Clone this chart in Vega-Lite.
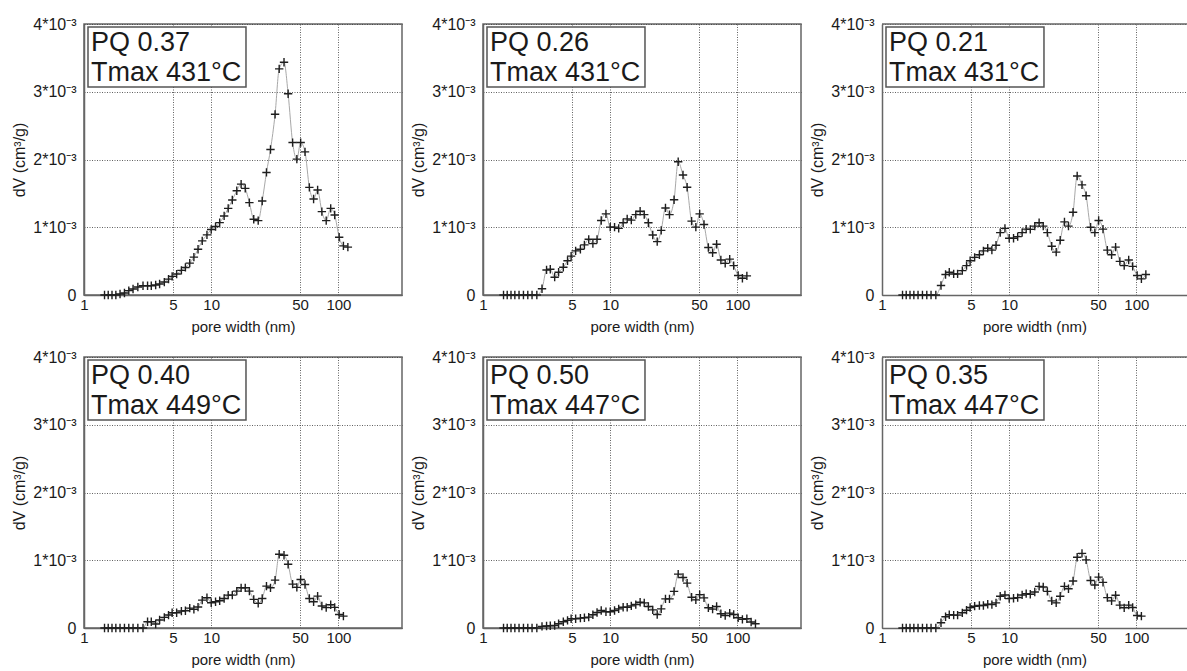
{
  "$schema": "https://vega.github.io/schema/vega-lite/v6.json",
  "background": "white",
  "padding": {"left": 10, "top": 15, "right": 0, "bottom": 0},
  "columns": 3,
  "bounds": "flush",
  "spacing": {"row": 62, "column": 81},
  "config": {
    "font": "Liberation Sans",
    "view": {"stroke": "#666", "strokeWidth": 1.5},
    "axis": {"grid": true, "gridColor": "#3a3a3a", "gridDash": [1, 1.5], "gridWidth": 0.8, "ticks": false, "domain": true, "domainColor": "#666", "domainWidth": 1.5, "labelColor": "#1a1a1a", "titleColor": "#1a1a1a", "titleFontWeight": "normal", "labelFont": "Liberation Sans", "titleFont": "Liberation Sans"},
    "axisX": {"labelFontSize": 15, "titleFontSize": 15, "labelPadding": 2, "titlePadding": 7, "labelFlush": false, "labelOverlap": false},
    "axisY": {"labelFontSize": 16, "titleFontSize": 16, "labelPadding": 8, "titlePadding": 8.5, "minExtent": 48, "maxExtent": 48, "labelOverlap": false},
    "line": {"interpolate": "monotone", "color": "#a8a8a8", "strokeWidth": 1},
    "point": {"shape": "M-1,0H1M0,-1V1", "filled": false, "stroke": "#1e1e1e", "strokeWidth": 1.4, "size": 70, "opacity": 1},
    "rect": {"fill": "white", "stroke": "#555", "strokeWidth": 1.5},
    "text": {"align": "left", "baseline": "alphabetic", "fontSize": 27, "color": "#1a1a1a"},
    "rule": {"color": "#666", "strokeWidth": 1.5}
  },
  "datasets": {
    "p1": [
      {"w":1.45,"dv":0},{"w":1.55,"dv":0},{"w":1.66,"dv":0},{"w":1.78,"dv":0},{"w":1.92,"dv":0.000015},{"w":2.08,"dv":0.00003},{"w":2.25,"dv":0.000064},{"w":2.43,"dv":0.000088},{"w":2.65,"dv":0.000118},{"w":2.91,"dv":0.000137},{"w":3.16,"dv":0.000137},{"w":3.38,"dv":0.000137},{"w":3.66,"dv":0.000147},{"w":3.93,"dv":0.000162},{"w":4.28,"dv":0.000191},{"w":4.62,"dv":0.000235},{"w":4.93,"dv":0.000275},{"w":5.35,"dv":0.000309},{"w":5.83,"dv":0.000363},{"w":6.27,"dv":0.000407},{"w":6.78,"dv":0.000471},{"w":7.31,"dv":0.000559},{"w":7.88,"dv":0.000676},{"w":8.5,"dv":0.000799},{"w":9.26,"dv":0.000887},{"w":10.0,"dv":0.000966},{"w":10.82,"dv":0.00101},{"w":11.66,"dv":0.001069},{"w":12.64,"dv":0.001167},{"w":13.6,"dv":0.001279},{"w":14.65,"dv":0.001402},{"w":15.89,"dv":0.001539},{"w":17.19,"dv":0.001637},{"w":18.52,"dv":0.001574},{"w":19.96,"dv":0.001363},{"w":21.6,"dv":0.001118},{"w":23.42,"dv":0.001098},{"w":25.18,"dv":0.001387},{"w":27.2,"dv":0.001809},{"w":29.25,"dv":0.002147},{"w":31.78,"dv":0.002667},{"w":34.24,"dv":0.003338},{"w":37.36,"dv":0.003436},{"w":40.25,"dv":0.002971},{"w":43.65,"dv":0.00225},{"w":47.13,"dv":0.002005},{"w":50.5,"dv":0.00225},{"w":54.64,"dv":0.002113},{"w":59.11,"dv":0.001588},{"w":63.83,"dv":0.001417},{"w":68.65,"dv":0.001549},{"w":74.13,"dv":0.00123},{"w":80.2,"dv":0.001098},{"w":87.0,"dv":0.001279},{"w":93.5,"dv":0.001181},{"w":101.4,"dv":0.000853},{"w":109.5,"dv":0.000725},{"w":118.7,"dv":0.000706}
    ],
    "p2": [
      {"w":1.45,"dv":0},{"w":1.55,"dv":0},{"w":1.66,"dv":0},{"w":1.78,"dv":0},{"w":1.92,"dv":0},{"w":2.08,"dv":0},{"w":2.25,"dv":0},{"w":2.43,"dv":0},{"w":2.65,"dv":0},{"w":2.91,"dv":0.000092},{"w":3.16,"dv":0.00037},{"w":3.38,"dv":0.00038},{"w":3.66,"dv":0.000263},{"w":3.93,"dv":0.000336},{"w":4.28,"dv":0.000409},{"w":4.62,"dv":0.000506},{"w":4.93,"dv":0.000574},{"w":5.35,"dv":0.000652},{"w":5.83,"dv":0.000676},{"w":6.27,"dv":0.00074},{"w":6.78,"dv":0.000822},{"w":7.31,"dv":0.000759},{"w":7.88,"dv":0.000822},{"w":8.5,"dv":0.0011},{"w":9.26,"dv":0.001197},{"w":10.0,"dv":0.001002},{"w":10.82,"dv":0.001002},{"w":11.66,"dv":0.000983},{"w":12.64,"dv":0.001066},{"w":13.6,"dv":0.001124},{"w":14.65,"dv":0.001105},{"w":15.89,"dv":0.001187},{"w":17.19,"dv":0.001236},{"w":18.52,"dv":0.001187},{"w":19.96,"dv":0.001066},{"w":21.6,"dv":0.000886},{"w":23.42,"dv":0.000788},{"w":25.18,"dv":0.000954},{"w":27.2,"dv":0.001285},{"w":29.25,"dv":0.001187},{"w":31.78,"dv":0.001406},{"w":34.24,"dv":0.001966},{"w":37.36,"dv":0.001771},{"w":40.25,"dv":0.001591},{"w":43.65,"dv":0.00109},{"w":47.13,"dv":0.001002},{"w":50.5,"dv":0.001197},{"w":54.64,"dv":0.001041},{"w":59.11,"dv":0.000701},{"w":63.83,"dv":0.000623},{"w":68.65,"dv":0.000749},{"w":74.13,"dv":0.000516},{"w":80.2,"dv":0.000467},{"w":87.0,"dv":0.00053},{"w":93.5,"dv":0.000433},{"w":101.4,"dv":0.000287},{"w":109.5,"dv":0.000248},{"w":118.7,"dv":0.000282}
    ],
    "p3": [
      {"w":1.45,"dv":0},{"w":1.55,"dv":0},{"w":1.66,"dv":0},{"w":1.78,"dv":0},{"w":1.92,"dv":0},{"w":2.08,"dv":0},{"w":2.25,"dv":0},{"w":2.43,"dv":0},{"w":2.65,"dv":0},{"w":2.91,"dv":0.000141},{"w":3.16,"dv":0.000302},{"w":3.38,"dv":0.000336},{"w":3.66,"dv":0.000311},{"w":3.93,"dv":0.000311},{"w":4.28,"dv":0.00036},{"w":4.62,"dv":0.000433},{"w":4.93,"dv":0.000506},{"w":5.35,"dv":0.000555},{"w":5.83,"dv":0.000594},{"w":6.27,"dv":0.000652},{"w":6.78,"dv":0.000691},{"w":7.31,"dv":0.000662},{"w":7.88,"dv":0.000735},{"w":8.5,"dv":0.00092},{"w":9.26,"dv":0.000983},{"w":10.0,"dv":0.000837},{"w":10.82,"dv":0.000837},{"w":11.66,"dv":0.000861},{"w":12.64,"dv":0.00092},{"w":13.6,"dv":0.000973},{"w":14.65,"dv":0.000968},{"w":15.89,"dv":0.001017},{"w":17.19,"dv":0.001066},{"w":18.52,"dv":0.001017},{"w":19.96,"dv":0.00092},{"w":21.6,"dv":0.00072},{"w":23.42,"dv":0.000633},{"w":25.18,"dv":0.000808},{"w":27.2,"dv":0.00108},{"w":29.25,"dv":0.001017},{"w":31.78,"dv":0.001221},{"w":34.24,"dv":0.001757},{"w":37.36,"dv":0.001625},{"w":40.25,"dv":0.001465},{"w":43.65,"dv":0.001},{"w":47.13,"dv":0.00092},{"w":50.5,"dv":0.0011},{"w":54.64,"dv":0.000973},{"w":59.11,"dv":0.000662},{"w":63.83,"dv":0.000594},{"w":68.65,"dv":0.000706},{"w":74.13,"dv":0.000496},{"w":80.2,"dv":0.000433},{"w":87.0,"dv":0.000516},{"w":93.5,"dv":0.000423},{"w":101.4,"dv":0.000287},{"w":109.5,"dv":0.000238},{"w":118.7,"dv":0.000302}
    ],
    "p4": [
      {"w":1.45,"dv":0},{"w":1.55,"dv":0},{"w":1.66,"dv":0},{"w":1.78,"dv":0},{"w":1.92,"dv":0},{"w":2.08,"dv":0},{"w":2.25,"dv":0},{"w":2.43,"dv":0},{"w":2.65,"dv":0},{"w":2.91,"dv":0},{"w":3.16,"dv":0.000093},{"w":3.38,"dv":0.000093},{"w":3.66,"dv":0.000059},{"w":3.93,"dv":0.000118},{"w":4.28,"dv":0.000157},{"w":4.62,"dv":0.000191},{"w":4.93,"dv":0.000225},{"w":5.35,"dv":0.000225},{"w":5.83,"dv":0.00025},{"w":6.27,"dv":0.000255},{"w":6.78,"dv":0.000294},{"w":7.31,"dv":0.000275},{"w":7.88,"dv":0.000309},{"w":8.5,"dv":0.000412},{"w":9.26,"dv":0.000446},{"w":10.0,"dv":0.000373},{"w":10.82,"dv":0.000387},{"w":11.66,"dv":0.000402},{"w":12.64,"dv":0.000436},{"w":13.6,"dv":0.000485},{"w":14.65,"dv":0.000485},{"w":15.89,"dv":0.000544},{"w":17.19,"dv":0.000593},{"w":18.52,"dv":0.000593},{"w":19.96,"dv":0.000544},{"w":21.6,"dv":0.000422},{"w":23.42,"dv":0.000363},{"w":25.18,"dv":0.000436},{"w":27.2,"dv":0.000618},{"w":29.25,"dv":0.000593},{"w":31.78,"dv":0.000706},{"w":34.24,"dv":0.001088},{"w":37.36,"dv":0.001074},{"w":40.25,"dv":0.00094},{"w":43.65,"dv":0.000647},{"w":47.13,"dv":0.0006},{"w":50.5,"dv":0.000716},{"w":54.64,"dv":0.000642},{"w":59.11,"dv":0.000436},{"w":63.83,"dv":0.000387},{"w":68.65,"dv":0.00047},{"w":74.13,"dv":0.000324},{"w":80.2,"dv":0.0003},{"w":87.0,"dv":0.000343},{"w":93.5,"dv":0.000304},{"w":101.4,"dv":0.0002},{"w":109.5,"dv":0.000176}
    ],
    "p5": [
      {"w":1.45,"dv":0},{"w":1.55,"dv":0},{"w":1.66,"dv":0},{"w":1.78,"dv":0},{"w":1.92,"dv":0},{"w":2.08,"dv":0},{"w":2.25,"dv":0},{"w":2.43,"dv":0},{"w":2.65,"dv":0},{"w":2.91,"dv":0.000024},{"w":3.16,"dv":0.000029},{"w":3.38,"dv":0.000034},{"w":3.66,"dv":0.000037},{"w":3.93,"dv":0.000063},{"w":4.28,"dv":0.000093},{"w":4.62,"dv":0.000112},{"w":4.93,"dv":0.000137},{"w":5.35,"dv":0.000137},{"w":5.83,"dv":0.000146},{"w":6.27,"dv":0.000151},{"w":6.78,"dv":0.000161},{"w":7.31,"dv":0.000195},{"w":7.88,"dv":0.000229},{"w":8.5,"dv":0.000259},{"w":9.26,"dv":0.000239},{"w":10.0,"dv":0.000239},{"w":10.82,"dv":0.000259},{"w":11.66,"dv":0.000283},{"w":12.64,"dv":0.000307},{"w":13.6,"dv":0.000307},{"w":14.65,"dv":0.000327},{"w":15.89,"dv":0.000346},{"w":17.19,"dv":0.00038},{"w":18.52,"dv":0.000371},{"w":19.96,"dv":0.000317},{"w":21.6,"dv":0.000268},{"w":23.42,"dv":0.0002},{"w":25.18,"dv":0.000283},{"w":27.2,"dv":0.00043},{"w":29.25,"dv":0.00043},{"w":31.78,"dv":0.00054},{"w":34.24,"dv":0.000795},{"w":37.36,"dv":0.000746},{"w":40.25,"dv":0.000663},{"w":43.65,"dv":0.000454},{"w":47.13,"dv":0.000415},{"w":50.5,"dv":0.000493},{"w":54.64,"dv":0.000444},{"w":59.11,"dv":0.000298},{"w":63.83,"dv":0.000278},{"w":68.65,"dv":0.000317},{"w":74.13,"dv":0.00021},{"w":80.2,"dv":0.000185},{"w":87.0,"dv":0.00022},{"w":93.5,"dv":0.0002},{"w":101.4,"dv":0.000151},{"w":109.5,"dv":0.000127},{"w":118.7,"dv":0.000137},{"w":128.2,"dv":0.000088},{"w":138.7,"dv":0.000063}
    ],
    "p6": [
      {"w":1.45,"dv":0},{"w":1.55,"dv":0},{"w":1.66,"dv":0},{"w":1.78,"dv":0},{"w":1.92,"dv":0},{"w":2.08,"dv":0},{"w":2.25,"dv":0},{"w":2.43,"dv":0},{"w":2.65,"dv":0},{"w":2.91,"dv":0.000078},{"w":3.16,"dv":0.000166},{"w":3.38,"dv":0.000195},{"w":3.66,"dv":0.00019},{"w":3.93,"dv":0.00019},{"w":4.28,"dv":0.000224},{"w":4.62,"dv":0.000263},{"w":4.93,"dv":0.000302},{"w":5.35,"dv":0.000322},{"w":5.83,"dv":0.000332},{"w":6.27,"dv":0.000332},{"w":6.78,"dv":0.000351},{"w":7.31,"dv":0.000346},{"w":7.88,"dv":0.000371},{"w":8.5,"dv":0.000468},{"w":9.26,"dv":0.000488},{"w":10.0,"dv":0.000434},{"w":10.82,"dv":0.000439},{"w":11.66,"dv":0.000449},{"w":12.64,"dv":0.000488},{"w":13.6,"dv":0.000507},{"w":14.65,"dv":0.000498},{"w":15.89,"dv":0.000532},{"w":17.19,"dv":0.000615},{"w":18.52,"dv":0.000605},{"w":19.96,"dv":0.000541},{"w":21.6,"dv":0.0004},{"w":23.42,"dv":0.000371},{"w":25.18,"dv":0.000468},{"w":27.2,"dv":0.000615},{"w":29.25,"dv":0.00058},{"w":31.78,"dv":0.000693},{"w":34.24,"dv":0.001044},{"w":37.36,"dv":0.001102},{"w":40.25,"dv":0.001005},{"w":43.65,"dv":0.000702},{"w":47.13,"dv":0.000634},{"w":50.5,"dv":0.000751},{"w":54.64,"dv":0.000673},{"w":59.11,"dv":0.000449},{"w":63.83,"dv":0.0004},{"w":68.65,"dv":0.000483},{"w":74.13,"dv":0.000337},{"w":80.2,"dv":0.000298},{"w":87.0,"dv":0.000337},{"w":93.5,"dv":0.000302},{"w":101.4,"dv":0.000185},{"w":109.5,"dv":0.000176}
    ]
  },
  "concat": [
    {
      "width": 318, "height": 271,
      "data": {"values": [{"l1": "PQ 0.37", "l2": "Tmax 431°C"}]},
      "layer": [
        {"data": {"name": "p1"}, "mark": "line", "encoding": {
          "x": {"field": "w", "type": "quantitative", "scale": {"type": "log", "domain": [1, 316.23], "nice": false}, "axis": {"values": [1, 5, 10, 50, 100], "format": "d", "title": "pore width (nm)"}},
          "y": {"field": "dv", "type": "quantitative", "scale": {"domain": [0, 0.004], "nice": false}, "axis": {"values": [0, 0.001, 0.002, 0.003, 0.004], "labelExpr": "datum.value == 0 ? '0' : format(datum.value*1000, 'd') + '*10⁻³'", "title": "dV (cm³/g)"}}}},
        {"data": {"name": "p1"}, "mark": "point", "encoding": {
          "x": {"field": "w", "type": "quantitative", "scale": {"type": "log", "domain": [1, 316.23], "nice": false}},
          "y": {"field": "dv", "type": "quantitative", "scale": {"domain": [0, 0.004], "nice": false}}}},
        {"mark": "rect", "encoding": {
          "x": {"datum": 1.075, "type": "quantitative", "scale": {"type": "log", "domain": [1, 316.23], "nice": false}}, "x2": {"datum": 18.77},
          "y": {"datum": 0.003956, "type": "quantitative", "scale": {"domain": [0, 0.004], "nice": false}}, "y2": {"datum": 0.00307}}},
        {"mark": "text", "encoding": {
          "x": {"datum": 1.135, "type": "quantitative", "scale": {"type": "log", "domain": [1, 316.23], "nice": false}},
          "y": {"datum": 0.003601, "type": "quantitative", "scale": {"domain": [0, 0.004], "nice": false}}, "text": {"field": "l1"}}},
        {"mark": "text", "encoding": {
          "x": {"datum": 1.135, "type": "quantitative", "scale": {"type": "log", "domain": [1, 316.23], "nice": false}},
          "y": {"datum": 0.003159, "type": "quantitative", "scale": {"domain": [0, 0.004], "nice": false}}, "text": {"field": "l2"}}}
      ]
    },
    {
      "width": 318, "height": 271,
      "data": {"values": [{"l1": "PQ 0.26", "l2": "Tmax 431°C"}]},
      "layer": [
        {"data": {"name": "p2"}, "mark": "line", "encoding": {
          "x": {"field": "w", "type": "quantitative", "scale": {"type": "log", "domain": [1, 316.23], "nice": false}, "axis": {"values": [1, 5, 10, 50, 100], "format": "d", "title": "pore width (nm)"}},
          "y": {"field": "dv", "type": "quantitative", "scale": {"domain": [0, 0.004], "nice": false}, "axis": {"values": [0, 0.001, 0.002, 0.003, 0.004], "labelExpr": "datum.value == 0 ? '0' : format(datum.value*1000, 'd') + '*10⁻³'", "title": "dV (cm³/g)"}}}},
        {"data": {"name": "p2"}, "mark": "point", "encoding": {
          "x": {"field": "w", "type": "quantitative", "scale": {"type": "log", "domain": [1, 316.23], "nice": false}},
          "y": {"field": "dv", "type": "quantitative", "scale": {"domain": [0, 0.004], "nice": false}}}},
        {"mark": "rect", "encoding": {
          "x": {"datum": 1.075, "type": "quantitative", "scale": {"type": "log", "domain": [1, 316.23], "nice": false}}, "x2": {"datum": 18.77},
          "y": {"datum": 0.003956, "type": "quantitative", "scale": {"domain": [0, 0.004], "nice": false}}, "y2": {"datum": 0.00307}}},
        {"mark": "text", "encoding": {
          "x": {"datum": 1.135, "type": "quantitative", "scale": {"type": "log", "domain": [1, 316.23], "nice": false}},
          "y": {"datum": 0.003601, "type": "quantitative", "scale": {"domain": [0, 0.004], "nice": false}}, "text": {"field": "l1"}}},
        {"mark": "text", "encoding": {
          "x": {"datum": 1.135, "type": "quantitative", "scale": {"type": "log", "domain": [1, 316.23], "nice": false}},
          "y": {"datum": 0.003159, "type": "quantitative", "scale": {"domain": [0, 0.004], "nice": false}}, "text": {"field": "l2"}}}
      ]
    },
    {
      "width": 305, "height": 271,
      "view": {"stroke": null},
      "data": {"values": [{"l1": "PQ 0.21", "l2": "Tmax 431°C"}]},
      "layer": [
        {"data": {"name": "p3"}, "mark": "line", "encoding": {
          "x": {"field": "w", "type": "quantitative", "scale": {"type": "log", "domain": [1, 250], "nice": false}, "axis": {"values": [1, 5, 10, 50, 100], "format": "d", "title": "pore width (nm)"}},
          "y": {"field": "dv", "type": "quantitative", "scale": {"domain": [0, 0.004], "nice": false}, "axis": {"values": [0, 0.001, 0.002, 0.003, 0.004], "labelExpr": "datum.value == 0 ? '0' : format(datum.value*1000, 'd') + '*10⁻³'", "title": "dV (cm³/g)"}}}},
        {"data": {"name": "p3"}, "mark": "point", "encoding": {
          "x": {"field": "w", "type": "quantitative", "scale": {"type": "log", "domain": [1, 250], "nice": false}},
          "y": {"field": "dv", "type": "quantitative", "scale": {"domain": [0, 0.004], "nice": false}}}},
        {"mark": "rule", "encoding": {
          "y": {"datum": 0.004, "type": "quantitative", "scale": {"domain": [0, 0.004], "nice": false}}}},
        {"mark": "rect", "encoding": {
          "x": {"datum": 1.075, "type": "quantitative", "scale": {"type": "log", "domain": [1, 250], "nice": false}}, "x2": {"datum": 18.77},
          "y": {"datum": 0.003956, "type": "quantitative", "scale": {"domain": [0, 0.004], "nice": false}}, "y2": {"datum": 0.00307}}},
        {"mark": "text", "encoding": {
          "x": {"datum": 1.135, "type": "quantitative", "scale": {"type": "log", "domain": [1, 250], "nice": false}},
          "y": {"datum": 0.003601, "type": "quantitative", "scale": {"domain": [0, 0.004], "nice": false}}, "text": {"field": "l1"}}},
        {"mark": "text", "encoding": {
          "x": {"datum": 1.135, "type": "quantitative", "scale": {"type": "log", "domain": [1, 250], "nice": false}},
          "y": {"datum": 0.003159, "type": "quantitative", "scale": {"domain": [0, 0.004], "nice": false}}, "text": {"field": "l2"}}}
      ]
    },
    {
      "width": 318, "height": 271,
      "data": {"values": [{"l1": "PQ 0.40", "l2": "Tmax 449°C"}]},
      "layer": [
        {"data": {"name": "p4"}, "mark": "line", "encoding": {
          "x": {"field": "w", "type": "quantitative", "scale": {"type": "log", "domain": [1, 316.23], "nice": false}, "axis": {"values": [1, 5, 10, 50, 100], "format": "d", "title": "pore width (nm)"}},
          "y": {"field": "dv", "type": "quantitative", "scale": {"domain": [0, 0.004], "nice": false}, "axis": {"values": [0, 0.001, 0.002, 0.003, 0.004], "labelExpr": "datum.value == 0 ? '0' : format(datum.value*1000, 'd') + '*10⁻³'", "title": "dV (cm³/g)"}}}},
        {"data": {"name": "p4"}, "mark": "point", "encoding": {
          "x": {"field": "w", "type": "quantitative", "scale": {"type": "log", "domain": [1, 316.23], "nice": false}},
          "y": {"field": "dv", "type": "quantitative", "scale": {"domain": [0, 0.004], "nice": false}}}},
        {"mark": "rect", "encoding": {
          "x": {"datum": 1.075, "type": "quantitative", "scale": {"type": "log", "domain": [1, 316.23], "nice": false}}, "x2": {"datum": 18.77},
          "y": {"datum": 0.003956, "type": "quantitative", "scale": {"domain": [0, 0.004], "nice": false}}, "y2": {"datum": 0.00307}}},
        {"mark": "text", "encoding": {
          "x": {"datum": 1.135, "type": "quantitative", "scale": {"type": "log", "domain": [1, 316.23], "nice": false}},
          "y": {"datum": 0.003601, "type": "quantitative", "scale": {"domain": [0, 0.004], "nice": false}}, "text": {"field": "l1"}}},
        {"mark": "text", "encoding": {
          "x": {"datum": 1.135, "type": "quantitative", "scale": {"type": "log", "domain": [1, 316.23], "nice": false}},
          "y": {"datum": 0.003159, "type": "quantitative", "scale": {"domain": [0, 0.004], "nice": false}}, "text": {"field": "l2"}}}
      ]
    },
    {
      "width": 318, "height": 271,
      "data": {"values": [{"l1": "PQ 0.50", "l2": "Tmax 447°C"}]},
      "layer": [
        {"data": {"name": "p5"}, "mark": "line", "encoding": {
          "x": {"field": "w", "type": "quantitative", "scale": {"type": "log", "domain": [1, 316.23], "nice": false}, "axis": {"values": [1, 5, 10, 50, 100], "format": "d", "title": "pore width (nm)"}},
          "y": {"field": "dv", "type": "quantitative", "scale": {"domain": [0, 0.004], "nice": false}, "axis": {"values": [0, 0.001, 0.002, 0.003, 0.004], "labelExpr": "datum.value == 0 ? '0' : format(datum.value*1000, 'd') + '*10⁻³'", "title": "dV (cm³/g)"}}}},
        {"data": {"name": "p5"}, "mark": "point", "encoding": {
          "x": {"field": "w", "type": "quantitative", "scale": {"type": "log", "domain": [1, 316.23], "nice": false}},
          "y": {"field": "dv", "type": "quantitative", "scale": {"domain": [0, 0.004], "nice": false}}}},
        {"mark": "rect", "encoding": {
          "x": {"datum": 1.075, "type": "quantitative", "scale": {"type": "log", "domain": [1, 316.23], "nice": false}}, "x2": {"datum": 18.77},
          "y": {"datum": 0.003956, "type": "quantitative", "scale": {"domain": [0, 0.004], "nice": false}}, "y2": {"datum": 0.00307}}},
        {"mark": "text", "encoding": {
          "x": {"datum": 1.135, "type": "quantitative", "scale": {"type": "log", "domain": [1, 316.23], "nice": false}},
          "y": {"datum": 0.003601, "type": "quantitative", "scale": {"domain": [0, 0.004], "nice": false}}, "text": {"field": "l1"}}},
        {"mark": "text", "encoding": {
          "x": {"datum": 1.135, "type": "quantitative", "scale": {"type": "log", "domain": [1, 316.23], "nice": false}},
          "y": {"datum": 0.003159, "type": "quantitative", "scale": {"domain": [0, 0.004], "nice": false}}, "text": {"field": "l2"}}}
      ]
    },
    {
      "width": 305, "height": 271,
      "view": {"stroke": null},
      "data": {"values": [{"l1": "PQ 0.35", "l2": "Tmax 447°C"}]},
      "layer": [
        {"data": {"name": "p6"}, "mark": "line", "encoding": {
          "x": {"field": "w", "type": "quantitative", "scale": {"type": "log", "domain": [1, 250], "nice": false}, "axis": {"values": [1, 5, 10, 50, 100], "format": "d", "title": "pore width (nm)"}},
          "y": {"field": "dv", "type": "quantitative", "scale": {"domain": [0, 0.004], "nice": false}, "axis": {"values": [0, 0.001, 0.002, 0.003, 0.004], "labelExpr": "datum.value == 0 ? '0' : format(datum.value*1000, 'd') + '*10⁻³'", "title": "dV (cm³/g)"}}}},
        {"data": {"name": "p6"}, "mark": "point", "encoding": {
          "x": {"field": "w", "type": "quantitative", "scale": {"type": "log", "domain": [1, 250], "nice": false}},
          "y": {"field": "dv", "type": "quantitative", "scale": {"domain": [0, 0.004], "nice": false}}}},
        {"mark": "rule", "encoding": {
          "y": {"datum": 0.004, "type": "quantitative", "scale": {"domain": [0, 0.004], "nice": false}}}},
        {"mark": "rect", "encoding": {
          "x": {"datum": 1.075, "type": "quantitative", "scale": {"type": "log", "domain": [1, 250], "nice": false}}, "x2": {"datum": 18.77},
          "y": {"datum": 0.003956, "type": "quantitative", "scale": {"domain": [0, 0.004], "nice": false}}, "y2": {"datum": 0.00307}}},
        {"mark": "text", "encoding": {
          "x": {"datum": 1.135, "type": "quantitative", "scale": {"type": "log", "domain": [1, 250], "nice": false}},
          "y": {"datum": 0.003601, "type": "quantitative", "scale": {"domain": [0, 0.004], "nice": false}}, "text": {"field": "l1"}}},
        {"mark": "text", "encoding": {
          "x": {"datum": 1.135, "type": "quantitative", "scale": {"type": "log", "domain": [1, 250], "nice": false}},
          "y": {"datum": 0.003159, "type": "quantitative", "scale": {"domain": [0, 0.004], "nice": false}}, "text": {"field": "l2"}}}
      ]
    }
  ]
}
